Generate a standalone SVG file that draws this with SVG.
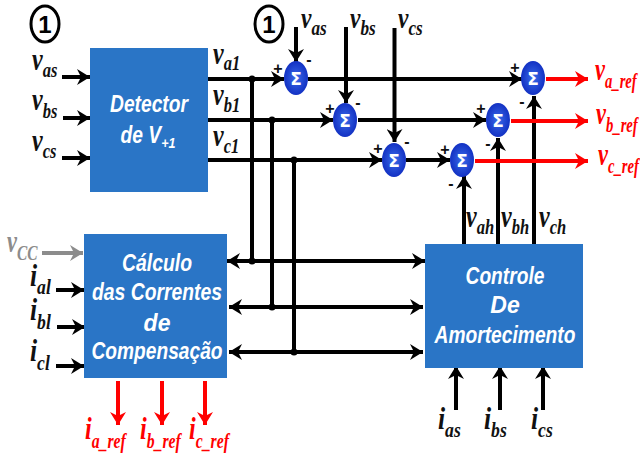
<svg xmlns="http://www.w3.org/2000/svg" width="640" height="456" viewBox="0 0 640 456">
<style>
.l{fill:none;stroke:#000;stroke-width:4}
.k{marker-end:url(#ak)}
.s{marker-start:url(#ak)}
.r{fill:none;stroke:#f00;stroke-width:4;marker-end:url(#ar)}
.g{fill:none;stroke:#8c8c8c;stroke-width:4;marker-end:url(#ag)}
.b{fill:#2a75c6}
.t{font-family:"Liberation Sans",Arial,sans-serif;font-weight:bold;font-style:italic;font-size:23px;fill:#fff;text-anchor:middle}
.v{font-family:"Liberation Serif","Times New Roman",serif;font-weight:bold;font-style:italic;font-size:32px;fill:#111}
.v tspan{font-size:22px}
.v.top{font-size:30px}
.v.red tspan{font-size:21px}
.red{fill:#f00}
.gr{fill:#8c8c8c}
.o{fill:url(#bl)}
.sg{font-family:"DejaVu Sans",sans-serif;font-weight:bold;font-size:17px;fill:#fff;text-anchor:middle}
.p{font-family:"Liberation Sans",Arial,sans-serif;font-weight:bold;font-size:16px;fill:#111;text-anchor:middle}
.c{fill:#fff;stroke:#000;stroke-width:3}
.n{font-family:"Liberation Sans",Arial,sans-serif;font-weight:bold;font-size:24px;fill:#000;text-anchor:middle}
.d{fill:#000}
</style>
<defs>
<radialGradient id="bl" cx="50%" cy="50%" r="55%"><stop offset="0" stop-color="#3a6ae8"/><stop offset="1" stop-color="#0f2cc0"/></radialGradient>
<marker id="ak" markerUnits="userSpaceOnUse" markerWidth="14" markerHeight="16" refX="13" refY="8" orient="auto-start-reverse"><path d="M0,0 L13,8 L0,16 L4,8 z" fill="#000"/></marker>
<marker id="ar" markerUnits="userSpaceOnUse" markerWidth="14" markerHeight="16" refX="13" refY="8" orient="auto"><path d="M0,0 L13,8 L0,16 L4,8 z" fill="#f00"/></marker>
<marker id="ag" markerUnits="userSpaceOnUse" markerWidth="14" markerHeight="16" refX="13" refY="8" orient="auto"><path d="M0,0 L13,8 L0,16 L4,8 z" fill="#8c8c8c"/></marker>
</defs>
<g id="connectors">
<path class="l k" d="M62 77H90"/><path class="l k" d="M63 118H90"/><path class="l k" d="M62 158H90"/>
<path class="l k" d="M208 79H284"/><path class="l k" d="M308 79H522"/>
<path class="l k" d="M208 120H333"/><path class="l k" d="M358 120H486"/>
<path class="l k" d="M208 160H382"/><path class="l k" d="M406 160H450"/>
<path class="l" d="M252 79V261"/><path class="l" d="M272 120V307"/><path class="l" d="M294 160V352"/>
<path class="l k s" d="M227 261H425"/><path class="l k s" d="M229 307H423"/><path class="l k s" d="M229 352H423"/>
<path class="l k" d="M296 27V62"/><path class="l k" d="M346 27V103"/><path class="l k" d="M394.500 28V142"/>
<path class="l k" d="M464 244V176"/><path class="l k" d="M498 244V138"/><path class="l k" d="M534 244V96"/>
<path class="r" d="M546 79H588"/><path class="r" d="M511 121H588"/><path class="r" d="M475 161H588"/>
<path class="g" d="M42 253H83"/>
<path class="l k" d="M56 290H84"/><path class="l k" d="M57 327H85"/><path class="l k" d="M56 366H84"/>
<path class="r" d="M118 381V425"/><path class="r" d="M162 381V425"/><path class="r" d="M205 381V425"/>
<path class="l k" d="M456 410V366"/><path class="l k" d="M500 410V366"/><path class="l k" d="M543 410V366"/>
<circle class="d" cx="252" cy="79" r="3.500"/><circle class="d" cx="272" cy="120" r="3.500"/><circle class="d" cx="294" cy="160" r="3.500"/>
<circle class="d" cx="252" cy="261" r="3.500"/><circle class="d" cx="272" cy="307" r="3.500"/><circle class="d" cx="294" cy="352" r="3.500"/>
</g>
<g id="detector"><rect class="b" x="90" y="48" width="118" height="144"/>
<text class="t" x="149" y="112" textLength="78" lengthAdjust="spacingAndGlyphs">Detector</text>
<text class="t" x="148" y="143" textLength="55" lengthAdjust="spacingAndGlyphs">de V<tspan font-size="15" dy="5">+1</tspan></text></g>
<g id="calculo"><rect class="b" x="84" y="234" width="143" height="144"/>
<text class="t" x="157" y="271" textLength="70" lengthAdjust="spacingAndGlyphs">Cálculo</text>
<text class="t" x="157" y="300" textLength="130" lengthAdjust="spacingAndGlyphs">das Correntes</text>
<text class="t" x="157" y="331">de</text>
<text class="t" x="157" y="359" textLength="131" lengthAdjust="spacingAndGlyphs">Compensação</text></g>
<g id="controle"><rect class="b" x="425" y="244" width="158" height="124"/>
<text class="t" x="505" y="284" textLength="79" lengthAdjust="spacingAndGlyphs">Controle</text>
<text class="t" x="505" y="313">De</text>
<text class="t" x="505" y="343" textLength="141" lengthAdjust="spacingAndGlyphs">Amortecimento</text></g>
<g id="sum-a1"><ellipse class="o" cx="296" cy="78" rx="12" ry="17"/><text class="sg" x="296" y="85">Σ</text><text class="p" x="278" y="74">+</text><text class="p" x="309" y="65">-</text></g>
<g id="sum-b1"><ellipse class="o" cx="345" cy="120" rx="12" ry="17"/><text class="sg" x="345" y="127">Σ</text><text class="p" x="330" y="114">+</text><text class="p" x="358" y="108">-</text></g>
<g id="sum-c1"><ellipse class="o" cx="394" cy="160" rx="12" ry="17"/><text class="sg" x="394" y="167">Σ</text><text class="p" x="378" y="154">+</text><text class="p" x="407" y="147">-</text></g>
<g id="sum-a2"><ellipse class="o" cx="533" cy="78" rx="12" ry="17"/><text class="sg" x="533" y="85">Σ</text><text class="p" x="515" y="73">+</text><text class="p" x="522" y="107">-</text></g>
<g id="sum-b2"><ellipse class="o" cx="498" cy="120" rx="12" ry="17"/><text class="sg" x="498" y="127">Σ</text><text class="p" x="481" y="114">+</text><text class="p" x="488" y="149">-</text></g>
<g id="sum-c2"><ellipse class="o" cx="462" cy="160" rx="12" ry="17"/><text class="sg" x="462" y="167">Σ</text><text class="p" x="445" y="155">+</text><text class="p" x="451" y="189">-</text></g>
<g id="mark-1"><ellipse class="c" cx="45" cy="24" rx="14" ry="18"/><text class="n" x="45" y="33">1</text></g>
<g id="mark-2"><ellipse class="c" cx="269" cy="24" rx="14" ry="18"/><text class="n" x="269" y="33">1</text></g>
<g id="labels">
<text class="v" transform="translate(32 70) scale(.75 1)">v<tspan dy="7">as</tspan></text>
<text class="v" transform="translate(32 110) scale(.75 1)">v<tspan dy="8">bs</tspan></text>
<text class="v" transform="translate(32 151) scale(.75 1)">v<tspan dy="7">cs</tspan></text>
<text class="v" transform="translate(213 64) scale(.75 1)">v<tspan dy="6">a1</tspan></text>
<text class="v" transform="translate(213 105) scale(.75 1)">v<tspan dy="7">b1</tspan></text>
<text class="v" transform="translate(213 146) scale(.75 1)">v<tspan dy="7">c1</tspan></text>
<text class="v top" transform="translate(301 28) scale(.78 1)">v<tspan dy="7">as</tspan></text>
<text class="v top" transform="translate(350 28) scale(.78 1)">v<tspan dy="7">bs</tspan></text>
<text class="v top" transform="translate(398 28) scale(.78 1)">v<tspan dy="7">cs</tspan></text>
<text class="v red" transform="translate(595 80) scale(.7 1)">v<tspan dy="8">a_ref</tspan></text>
<text class="v red" transform="translate(596 124) scale(.7 1)">v<tspan dy="8">b_ref</tspan></text>
<text class="v red" transform="translate(598 165) scale(.7 1)">v<tspan dy="8">c_ref</tspan></text>
<text class="v" transform="translate(466 227) scale(.75 1)">v<tspan dy="7">ah</tspan></text>
<text class="v" transform="translate(501 227) scale(.75 1)">v<tspan dy="7">bh</tspan></text>
<text class="v" transform="translate(539 227) scale(.75 1)">v<tspan dy="7">ch</tspan></text>
<text class="v gr" transform="translate(7 252) scale(.7 1)">v<tspan dy="8">CC</tspan></text>
<text class="v" transform="translate(30 286) scale(.8 1)">i<tspan dy="8">al</tspan></text>
<text class="v" transform="translate(30 320) scale(.8 1)">i<tspan dy="9">bl</tspan></text>
<text class="v" transform="translate(30 361) scale(.8 1)">i<tspan dy="9">cl</tspan></text>
<text class="v red" transform="translate(85 439) scale(.75 1)">i<tspan dy="9">a_ref</tspan></text>
<text class="v red" transform="translate(140 439) scale(.75 1)">i<tspan dy="9">b_ref</tspan></text>
<text class="v red" transform="translate(189 439) scale(.75 1)">i<tspan dy="9">c_ref</tspan></text>
<text class="v" transform="translate(438 429) scale(.8 1)">i<tspan dy="8">as</tspan></text>
<text class="v" transform="translate(484 429) scale(.8 1)">i<tspan dy="8">bs</tspan></text>
<text class="v" transform="translate(531 429) scale(.8 1)">i<tspan dy="8">cs</tspan></text>
</g>
</svg>
